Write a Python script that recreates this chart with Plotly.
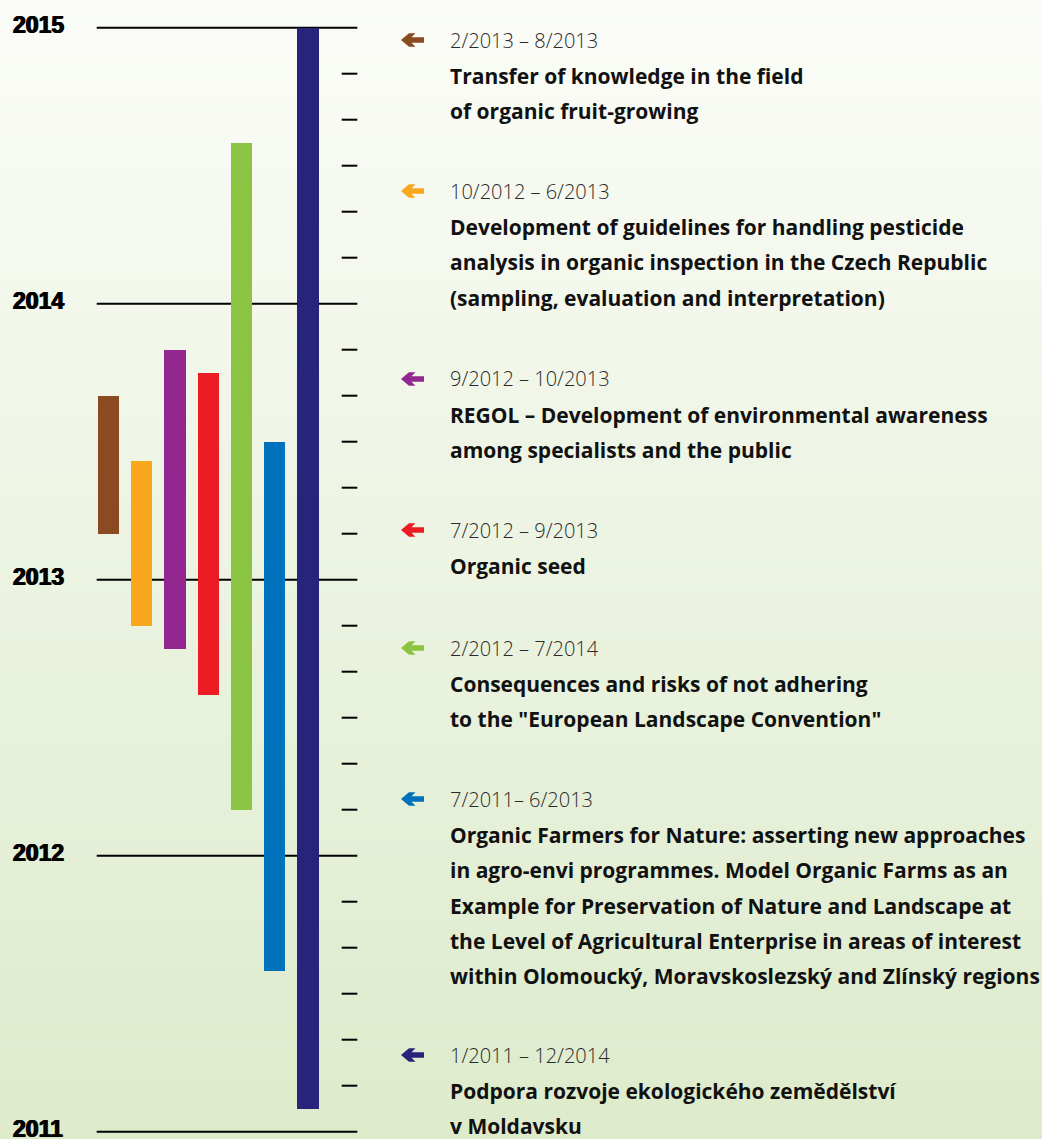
import plotly.graph_objects as go

W, H = 1042, 1139

# ---------------- data ----------------
project_dates = ["2/2013 – 8/2013", "10/2012 – 6/2013", "9/2012 – 10/2013", "7/2012 – 9/2013",
                 "2/2012 – 7/2014", "7/2011– 6/2013", "1/2011 – 12/2014"]
bar_start = [2013.167, 2012.833, 2012.75, 2012.583, 2012.167, 2011.583, 2011.083]
bar_end = [2013.667, 2013.43, 2013.833, 2013.75, 2014.583, 2013.5, 2015.0]
bar_colors = ["#8b4a22", "#f9a81e", "#92278f", "#ed1c24", "#8bc443", "#0072bc", "#29247b"]
project_titles = [
    ["Transfer of knowledge in the field", "of organic fruit-growing"],
    ["Development of guidelines for handling pesticide",
     "analysis in organic inspection in the Czech Republic",
     "(sampling, evaluation and interpretation)"],
    ["REGOL – Development of environmental awareness", "among specialists and the public"],
    ["Organic seed"],
    ["Consequences and risks of not adhering", "to the \"European Landscape Convention\""],
    ["Organic Farmers for Nature: asserting new approaches",
     "in agro-envi programmes. Model Organic Farms as an",
     "Example for Preservation of Nature and Landscape at",
     "the Level of Agricultural Enterprise in areas of interest",
     "within Olomoucký, Moravskoslezský and Zlínský regions"],
    ["Podpora rozvoje ekologického zemědělství", "v Moldavsku"],
]
year_labels = [2011, 2012, 2013, 2014, 2015]
minor_ticks_per_year = 6  # every two months

# ---------------- layout constants ----------------
PX_PER_YEAR = 276.0
Y2013_PX = 579.7
y_top = 2013 + Y2013_PX / PX_PER_YEAR
y_bot = 2013 - (H - Y2013_PX) / PX_PER_YEAR
BAR0_PX, BAR_STEP = 108.5, 33.25
BAR_W_PX = 21.4
date_y_px = [40, 191, 379, 530, 648, 799, 1055]
LINE_GAP = 35.3
TEXT_X = 448
ARROW_X = 401

def px(x):
    return x / W

def py(y):
    return 1 - y / H

fig = go.Figure()

# bars
idx = list(range(len(bar_start)))
fig.add_trace(go.Bar(
    x=idx, base=bar_start, y=[e - s for s, e in zip(bar_start, bar_end)],
    width=BAR_W_PX / BAR_STEP, marker=dict(color=bar_colors, line=dict(width=0)),
    hoverinfo="skip", showlegend=False))

shapes = []
# background gradient
top_c = (251, 252, 248)
bot_c = (221, 235, 203)
n = 80
for i in range(n):
    t = (i + 0.5) / n
    c = tuple(round(top_c[k] + (bot_c[k] - top_c[k]) * t) for k in range(3))
    shapes.append(dict(type="rect", xref="paper", yref="paper", x0=0, x1=1,
                       y0=1 - (i + 1.05) / n, y1=1 - i / n, layer="below",
                       line=dict(width=0), fillcolor="rgb(%d,%d,%d)" % c))

# year lines and minor ticks
for yr in year_labels:
    shapes.append(dict(type="line", xref="paper", yref="y", x0=px(96.7), x1=px(357.3),
                       y0=yr, y1=yr, line=dict(color="#000000", width=2), layer="below"))
for yr in year_labels[:-1]:
    for k in range(1, minor_ticks_per_year):
        v = yr + k / minor_ticks_per_year
        shapes.append(dict(type="line", xref="paper", yref="y", x0=px(341.7), x1=px(357.3),
                           y0=v, y1=v, line=dict(color="#000000", width=2), layer="below"))

# arrows
arrow_poly = [(0, 0), (8, -6.8), (14.5, -6.8), (10.5, -2.8), (23, -2.8), (23, 2.8),
              (10.5, 2.8), (14.5, 6.8), (8, 6.8)]
for yc, col in zip(date_y_px, bar_colors):
    pts = [(px(ARROW_X + dx), py(yc + dy)) for dx, dy in arrow_poly]
    path = "M " + " L ".join("%.6f,%.6f" % p for p in pts) + " Z"
    shapes.append(dict(type="path", xref="paper", yref="paper", path=path,
                       fillcolor=col, line=dict(width=0)))

annotations = []
for yr in year_labels:
    annotations.append(dict(text="<b>%d</b>" % yr, xref="paper", yref="y", x=px(10.5), y=yr,
                            xanchor="left", yanchor="middle", yshift=3, showarrow=False,
                            font=dict(family="Liberation Sans", size=23, color="#000000",
                                      shadow="0.7px 0 0 #000, -0.7px 0 0 #000")))

for d, titles, yc in zip(project_dates, project_titles, date_y_px):
    annotations.append(dict(text=d, xref="paper", yref="paper", x=px(TEXT_X), y=py(yc),
                            xanchor="left", yanchor="middle", showarrow=False,
                            font=dict(family="Open Sans", size=20, color="#2a2a2a", weight=300)))
    for j, t in enumerate(titles):
        annotations.append(dict(text=t, xref="paper", yref="paper", x=px(TEXT_X),
                                y=py(yc + 36 + j * LINE_GAP),
                                xanchor="left", yanchor="middle", showarrow=False,
                                font=dict(family="Open Sans", size=21, color="#111111", weight=700)))

fig.update_layout(
    width=W, height=H, margin=dict(l=0, r=0, t=0, b=0),
    paper_bgcolor="rgb(251,252,248)", plot_bgcolor="rgba(0,0,0,0)",
    xaxis=dict(range=[(0 - BAR0_PX) / BAR_STEP, (W - BAR0_PX) / BAR_STEP], visible=False,
               fixedrange=True),
    yaxis=dict(range=[y_bot, y_top], visible=False, fixedrange=True),
    shapes=shapes, annotations=annotations, showlegend=False, bargap=0,
)

fig.write_html("out.html", config={"displayModeBar": False},
               post_script="document.body.style.margin='0';")
